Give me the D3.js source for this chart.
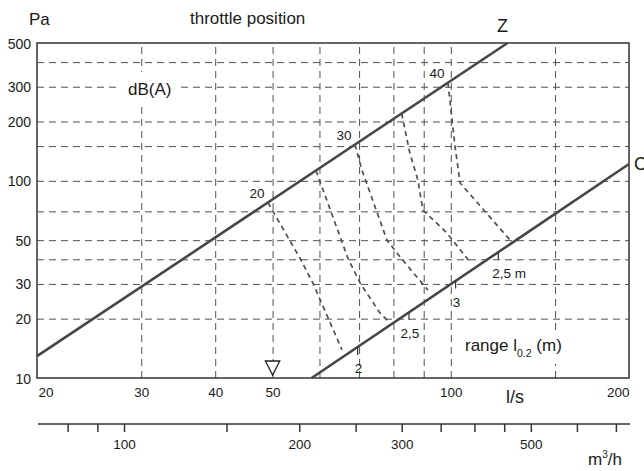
<!DOCTYPE html>
<html>
<head>
<meta charset="utf-8">
<script src="https://cdn.jsdelivr.net/npm/d3@7"></script>
<style>
body { margin: 0; background: #fff; }
svg text { font-family: "Liberation Sans", Arial, sans-serif; fill: #1a1a1a; }
</style>
</head>
<body>
<div id="chart"></div>
<script>
// values: flow in l/s, pressure in Pa
var pressureTicks = [10, 20, 30, 50, 100, 200, 300, 500];
var pressureGrid = [20, 30, 40, 50, 70, 100, 150, 200, 300, 400];
var flowTicks = [20, 30, 40, 50, 100, 200];
var flowGrid = [30, 40, 50, 60, 70, 80, 90, 100, 150];
var volumeTicks = [80, 90, 100, 150, 200, 250, 300, 350, 400, 450, 500, 600, 700];
var volumeLabels = [100, 200, 300, 500];

var lineZ = [[20, 12.9], [124.7, 500]];
var lineC = [[58.2, 10], [200, 121.7]];

// dashed throttle curves, from Z down towards C
var throttle1 = [[49.1, 77.6], [55.6, 40.6], [58.5, 30.3], [65.5, 13.9]];
var throttle2 = [[59.2, 112.8], [67.0, 40.6], [70.3, 30.3], [75.9, 21.4], [78.3, 19.5]];
var throttle3 = [[68.9, 152.7], [70.8, 113], [78.0, 50.1], [82.1, 41.1], [91.5, 27.9]];
var throttle4 = [[82.6, 219.5], [85.3, 138], [88.0, 100.9], [89.7, 71.1], [98.5, 54.4], [107.8, 38.7]];
var throttle5 = [[98.9, 314.6], [101.7, 148], [103.7, 97.5], [125.9, 50.1]];
var throttleCurves = [throttle1, throttle2, throttle3, throttle4, throttle5];
var throttleLabels = ["20", "", "30", "", "40"];

// range l0.2 marks on line C
var rangeMarks = [[69.6, 14.3], [85.0, 21.6], [101.9, 31.2], [120.3, 43.6]];
var rangeLabels = ["2", "2,5", "3", "2,5 m"];

var markerFlow = 50;

//Width and height
var w = 644;
var h = 471;

var x = d3.scaleLog().domain([20, 200]).range([37, 629]);
var y = d3.scaleLog().domain([10, 500]).range([378, 43]);
// m3/h scale under the chart
var xm = d3.scaleLog().domain([72, 720]).range([41, 623]);

var x0 = x.range()[0], x1 = x.range()[1];
var y0 = y.range()[0], y1 = y.range()[1];

var svg = d3.select("#chart")
  .append("svg")
  .attr("width", w)
  .attr("height", h);

//Horizontal grid
svg.append("g")
  .attr("transform", "translate(" + x0 + ",0)")
  .call(d3.axisLeft(y).tickValues(pressureGrid).tickSize(-(x1 - x0)).tickFormat(""))
  .call(function(g) { g.select(".domain").remove(); })
  .selectAll("line")
  .attr("stroke", "#505050")
  .attr("stroke-width", 1)
  .attr("stroke-dasharray", "7,5");

//Vertical grid
svg.append("g")
  .attr("transform", "translate(0," + y0 + ")")
  .call(d3.axisTop(x).tickValues(flowGrid).tickSize(y0 - y1).tickFormat(""))
  .call(function(g) { g.select(".domain").remove(); })
  .selectAll("line")
  .attr("stroke", "#505050")
  .attr("stroke-width", 1)
  .attr("stroke-dasharray", "7,5");

// white patches behind the inner labels
var patches = svg.append("g");

//Frame
svg.append("rect")
  .attr("x", x0).attr("y", y1)
  .attr("width", x1 - x0).attr("height", y0 - y1)
  .attr("fill", "none")
  .attr("stroke", "#333")
  .attr("stroke-width", 1.5);

//Y labels
var yAxis = svg.append("g")
  .attr("transform", "translate(31,0)")
  .call(d3.axisLeft(y).tickValues(pressureTicks).tickSize(0).tickPadding(0).tickFormat(d3.format("d")));
yAxis.select(".domain").remove();
yAxis.selectAll("text")
  .attr("dy", "5")
  .attr("font-size", "14px")
  .attr("font-family", null)
  .style("fill", "#1a1a1a");

//X labels (l/s)
var xAxis = svg.append("g")
  .attr("transform", "translate(0," + y0 + ")")
  .call(d3.axisBottom(x).tickValues(flowTicks).tickSize(0).tickPadding(0).tickFormat(d3.format("d")));
xAxis.select(".domain").remove();
xAxis.selectAll("text")
  .attr("y", 19)
  .attr("dy", 0)
  .attr("font-size", "13.5px")
  .attr("font-family", null)
  .style("fill", "#1a1a1a")
  .attr("dx", function(d) { return d === 20 ? 1 : 0; })
  .style("text-anchor", function(d) { return d === 20 ? "start" : (d === 200 ? "end" : "middle"); });

//m3/h axis
var mY = 424;
svg.append("line")
  .attr("x1", x0 + 1).attr("x2", x1 + 1)
  .attr("y1", mY).attr("y2", mY)
  .attr("stroke", "#333")
  .attr("stroke-width", 1.5);

var mAxis = svg.append("g")
  .attr("transform", "translate(0," + mY + ")")
  .call(d3.axisBottom(xm).tickValues(volumeTicks).tickSize(8).tickPadding(5)
    .tickFormat(function(d) { return volumeLabels.indexOf(d) >= 0 ? d : ""; }));
mAxis.select(".domain").remove();
mAxis.selectAll("line").attr("stroke", "#333").attr("stroke-width", 1.5);
mAxis.selectAll("text")
  .attr("y", 25)
  .attr("dy", 0)
  .attr("font-size", "13.5px")
  .attr("font-family", null)
  .style("fill", "#1a1a1a");

//Lines Z and C
var line = d3.line()
  .x(function(d) { return x(d[0]); })
  .y(function(d) { return y(d[1]); });

svg.selectAll(".main")
  .data([lineZ, lineC])
  .enter()
  .append("path")
  .attr("class", "main")
  .attr("d", line)
  .attr("fill", "none")
  .attr("stroke", "#464646")
  .attr("stroke-width", 2.6);

//Throttle curves
svg.selectAll(".throttle")
  .data(throttleCurves)
  .enter()
  .append("path")
  .attr("class", "throttle")
  .attr("d", line)
  .attr("fill", "none")
  .attr("stroke", "#505050")
  .attr("stroke-width", 1.7)
  .attr("stroke-dasharray", "5,4");

svg.selectAll(".tlabel")
  .data(throttleCurves)
  .enter()
  .append("text")
  .attr("class", "tlabel")
  .attr("x", function(d) { return x(d[0][0]) - 11; })
  .attr("y", function(d) { return y(d[0][1]) - 5; })
  .attr("text-anchor", "middle")
  .attr("font-size", "13.5px")
  .text(function(d, i) { return throttleLabels[i]; });

//Range marks on C
svg.selectAll(".rtick")
  .data(rangeMarks)
  .enter()
  .append("line")
  .attr("class", "rtick")
  .attr("x1", function(d) { return x(d[0]); })
  .attr("x2", function(d) { return x(d[0]); })
  .attr("y1", function(d) { return y(d[1]); })
  .attr("y2", function(d) { return y(d[1]) + 8; })
  .attr("stroke", "#333")
  .attr("stroke-width", 1.2);

svg.selectAll(".rlabel")
  .data(rangeMarks)
  .enter()
  .append("text")
  .attr("class", "rlabel")
  .attr("x", function(d, i) { return x(d[0]) + (/m$/.test(rangeLabels[i]) ? -6 : 1); })
  .attr("y", function(d) { return y(d[1]) + 26; })
  .attr("text-anchor", function(d, i) { return /m$/.test(rangeLabels[i]) ? "start" : "middle"; })
  .attr("font-size", "13.5px")
  .text(function(d, i) { return rangeLabels[i]; });

//Marker triangle
svg.append("path")
  .attr("transform", "translate(" + x(markerFlow) + "," + y0 + ")")
  .attr("d", "M-7.2,-17L7.2,-17L0,-3Z")
  .attr("fill", "#fff")
  .attr("stroke", "#222")
  .attr("stroke-width", 1.3);

//Texts
svg.append("text").attr("x", 29).attr("y", 25).attr("font-size", "17px").text("Pa");
svg.append("text").attr("x", 190).attr("y", 24).attr("font-size", "17px").text("throttle position");
svg.append("text").attr("x", 497).attr("y", 32).attr("font-size", "18px").text("Z");
svg.append("text").attr("x", 634).attr("y", 170).attr("font-size", "18px").text("C");
svg.append("text").attr("x", 506).attr("y", 403).attr("font-size", "18px").text("l/s");

var m3 = svg.append("text").attr("x", 588).attr("y", 465).attr("font-size", "17px");
m3.append("tspan").text("m");
m3.append("tspan").attr("font-size", "10px").attr("dy", -7).text("3");
m3.append("tspan").attr("dy", 7).text("/h");

var dbText = svg.append("text")
  .attr("x", 128).attr("y", 95)
  .attr("font-size", "17px")
  .text("dB(A)");

var rangeText = svg.append("text")
  .attr("x", 465).attr("y", 351)
  .attr("font-size", "17px");
rangeText.append("tspan").text("range l");
rangeText.append("tspan").attr("font-size", "10.5px").attr("dy", 6).text("0.2");
rangeText.append("tspan").attr("dy", -6).text(" (m)");

[[dbText, 8], [rangeText, 5]].forEach(function(p) {
  var b = p[0].node().getBBox();
  patches.append("rect")
    .attr("x", b.x - p[1]).attr("y", b.y - p[1])
    .attr("width", b.width + 2 * p[1]).attr("height", b.height + 2 * p[1])
    .attr("fill", "#fff");
});
</script>
</body>
</html>
